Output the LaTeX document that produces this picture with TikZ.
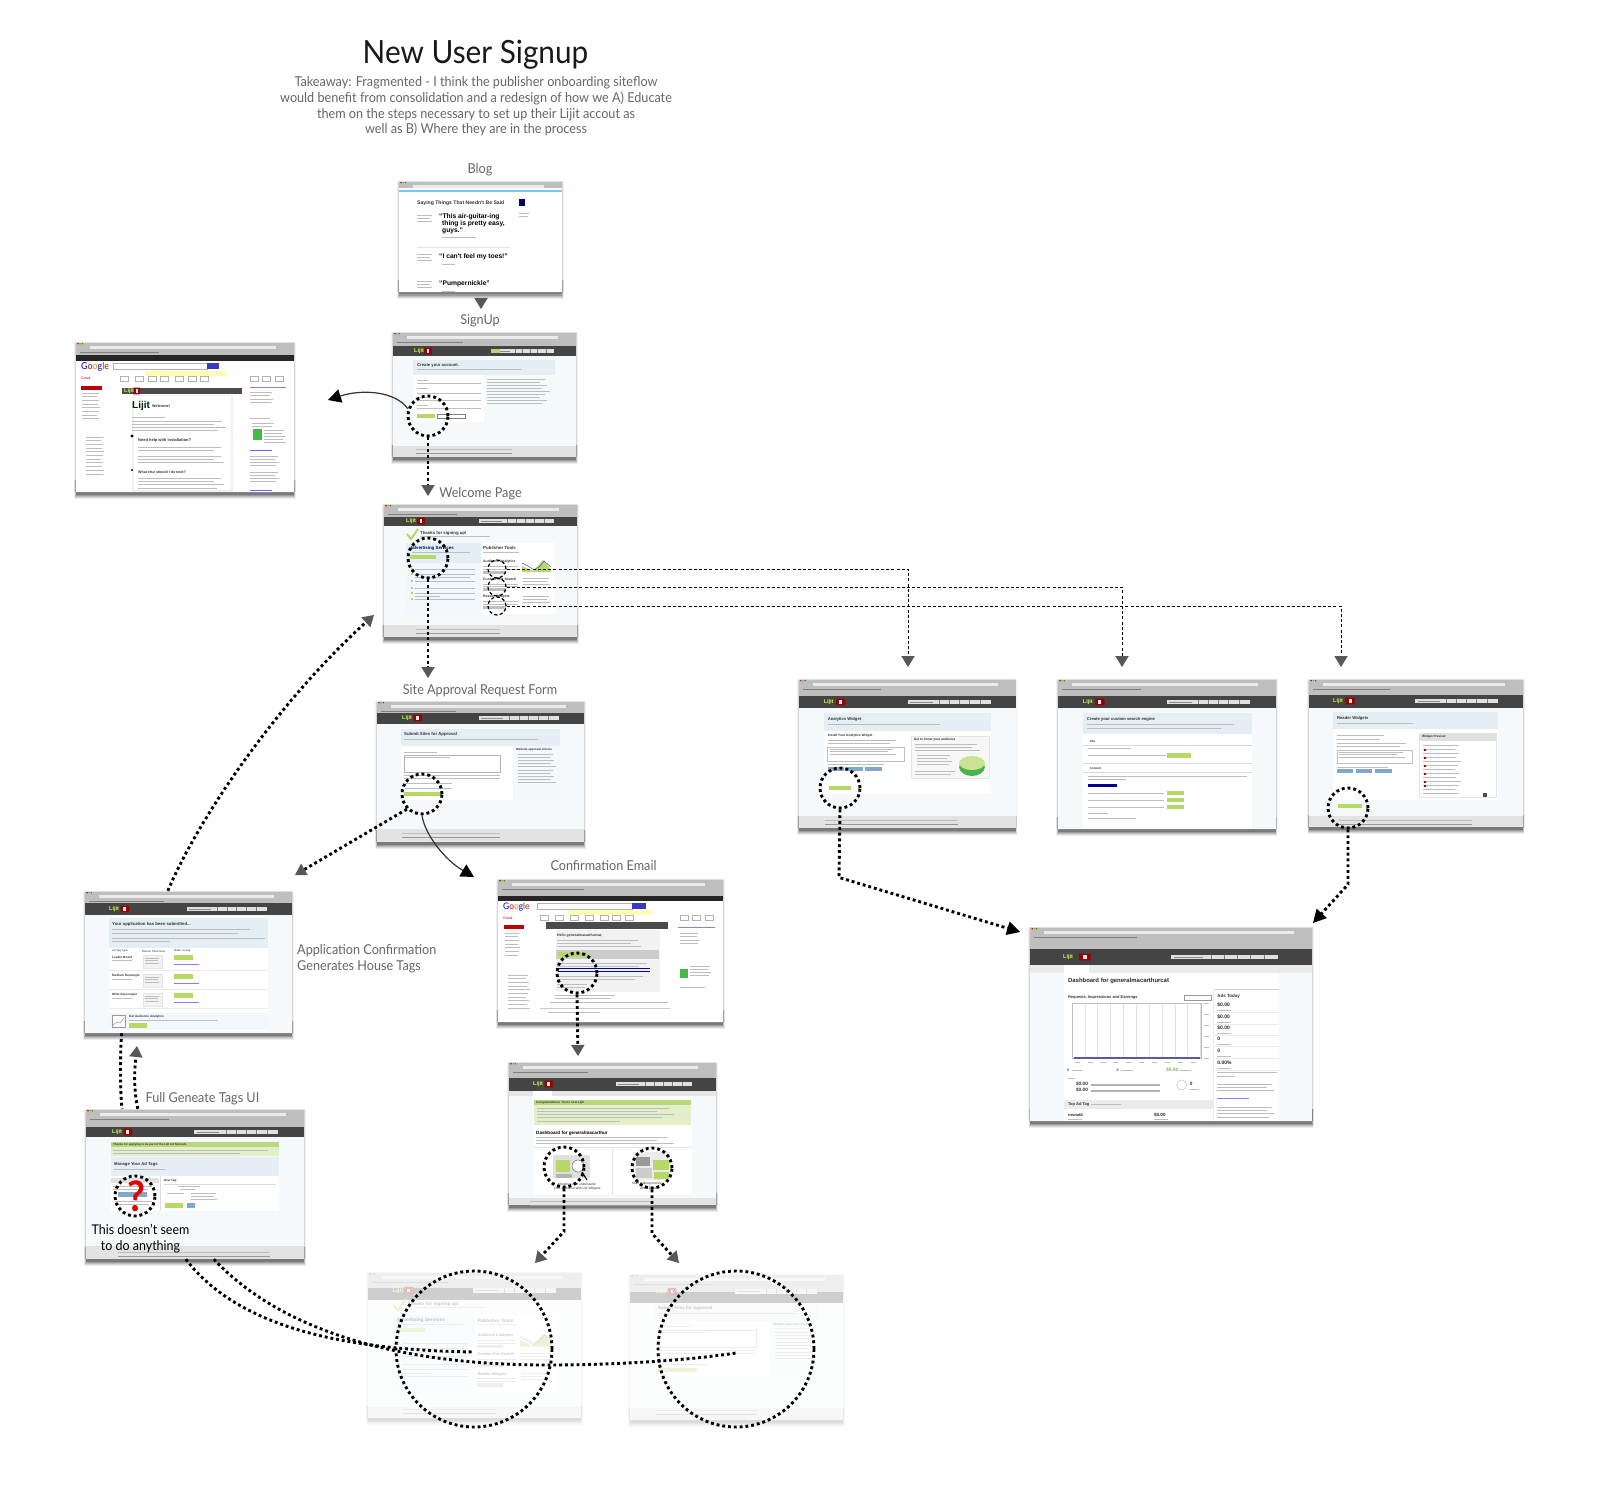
\documentclass[tikz,border=0pt]{standalone}
\usepackage{fontspec}
\setmainfont[FakeStretch=0.93]{Lato}
\newfontfamily\mock{Liberation Sans}
\usetikzlibrary{arrows.meta}
\definecolor{lab}{HTML}{666668}
\definecolor{tri}{HTML}{58585A}
\definecolor{chromec}{HTML}{BEBEBE}
\definecolor{headc}{HTML}{444444}
\definecolor{pagec}{HTML}{F6F9FB}
\definecolor{footc}{HTML}{E2E3E3}
\definecolor{panelb}{HTML}{E4EFF5}
\definecolor{gbtn}{HTML}{B5D866}
\definecolor{pgreen}{HTML}{E3EFC8}
\definecolor{dgreen}{HTML}{B9D77E}
\definecolor{bbtn}{HTML}{7FA8CC}
\definecolor{tlc}{HTML}{BBBDBF}
\definecolor{mtext}{HTML}{333333}
\newcounter{tc}
\tikzset{
 dots/.style={line width=2.9pt,dash pattern=on 2.9pt off 2.9pt,black},
 dashy/.style={line width=1pt,dash pattern=on 2.9pt off 2.3pt,black},
 hot/.style={circle,draw,dots,minimum size=40pt,inner sep=0pt},
 hotsmall/.style={circle,draw,line width=1.2pt,dash pattern=on 3.4pt off 2.2pt,minimum size=18pt,inner sep=0pt},
 graytip/.style={-{Triangle[length=11pt,width=13.5pt,line width=0pt,color=tri,fill=tri]}},
 blacktip/.style={-{Triangle[length=13pt,width=14pt,line width=0pt,color=black,fill=black]}},
 curve/.style={line width=1.2pt,draw=black!80},
 tlinest/.style={line width=.9pt,draw=tlc},
 lab/.style={text=lab,inner sep=0pt,font=\fontsize{13.6}{15.6}\selectfont},
 winbox/.style={inner sep=0pt,fill=pagec},
}
\newcommand{\tlabel}[5]{\stepcounter{tc}\node[anchor=west,inner sep=0pt,text=#4,font=\mock\fontsize{#3}{#3}\selectfont] (t\arabic{tc}) at (#1,#2) {#5};}
\newcommand{\tline}[3]{\draw[tlinest] (#1,#3) -- (#2,#3);}
\newcommand{\tblock}[5]{\foreach \i in {1,...,#5}{\draw[tlinest] (#1,{#3+(\i-1)*#4}) -- ({#2-mod(\i*7,5)*(#2-#1)*.04},{#3+(\i-1)*#4});}}
\newcommand{\btn}[5]{\fill[#5] (#1,{#3-#4/2}) rectangle (#2,{#3+#4/2});}
\newcommand{\lijit}[3]{\stepcounter{tc}%
 \fill[red!60!black,rounded corners=.5pt] ({#1+(#2-#1)*.58},#3-3.4) rectangle (#2,#3+3.4);
 \fill[white!90!red] ({#1+(#2-#1)*.72},#3-1.6) rectangle ({#1+(#2-#1)*.86},#3+1.6);
 \node[anchor=west,inner sep=0pt,text=green!30!yellow!70!white,font=\mock\bfseries\fontsize{5.5}{5.5}\selectfont] (t\arabic{tc}) at (#1,#3) {Lijit};}
\newcommand{\navbar}[3]{\fill[white!88!black] (#1,#3-2.4) rectangle (#2,#3+2.4);
 \foreach \f in {.38,.5,.62,.74,.87}{\draw[black!50,line width=.4pt] ({#1+(#2-#1)*\f},#3-2.4) -- ({#1+(#2-#1)*\f},#3+2.4);}
 \draw[black!45,line width=.8pt] ({#1+(#2-#1)*.03},#3) -- ({#1+(#2-#1)*.3},#3);}
\newcommand{\foots}[3]{\tline{#1}{#2}{#3}\draw[line width=.8pt,draw=black!40] (#1,#3+4) -- (#2,#3+4);}
% window frame: name x0 y0 x1 y1 chromeBottom headBottom footTop
\newcommand{\win}[8]{%
 \fill[black,opacity=.06] ({#2-2},{#3+1}) rectangle ({#4+2},#5);
 \fill[black,opacity=.10] ({#2-1},#3) rectangle ({#4+1},#5);
 \foreach \g/\h/\o in {1.6/7/.07,1.2/6/.09,.8/5/.12,.4/4/.16,0/2.5/.22}{\fill[black,opacity=\o] ({#2-\g},{#5-12}) rectangle ({#4+\g},{#5+\h});}
 \node[winbox,minimum width={(#4-#2)*1pt},minimum height={(#5-#3)*1pt}] (#1) at ({(#2+#4)/2},{(#3+#5)/2}) {};
 \fill[chromec] (#2,#3) rectangle (#4,#6);
 \begin{scope}
 \clip (#2,#3) rectangle (#4,#6);
 \fill[black!12] (#2,#3) rectangle (#4,{#3+1});
 \fill[white!92!black] ({#2+14},{#3+3.6}) rectangle ({#4-18},{#3+6.6});
 \draw[black!50,line width=.7pt] ({#2+4},{#3+10.6}) -- ({#2+(#4-#2)*.38},{#3+10.6});
 \fill[red!70!black] ({#2+2},{#3+1.7}) circle (.8pt);
 \fill[orange] ({#2+4.2},{#3+1.7}) circle (.8pt);
 \fill[green!60!black] ({#2+6.4},{#3+1.7}) circle (.8pt);
 \end{scope}
 \fill[headc] (#2,#6) rectangle (#4,#7);
 \fill[footc] (#2,#8) rectangle (#4,#5);
}
% ---- reusable page contents
\newcommand{\welcomecontent}{%
 \lijit{406}{425}{521}\navbar{479}{554}{521}
 \draw[line width=2pt,draw=gbtn] (407,534) -- (411,539) -- (418,529);
 \tlabel{420}{533}{4.3}{mtext}{\bfseries Thanks for signing up!}
 \tline{420}{490}{536.5}
 \fill[white] (406,543) rectangle (555,614);
 \fill[panelb] (406,543) rectangle (481,563);
 \fill[panelb!50!white] (406,563) rectangle (481,614);
 \tlabel{410}{548}{4.4}{blue!40!black}{\bfseries Advertising Services}
 \tline{412}{470}{552}
 \btn{410}{436}{557}{4}{gbtn}
 \foreach \y in {569,574,581,588,593,599}{\fill[gbtn] (411,\y-1) rectangle (413,\y+1);\tline{415}{475}{\y}}
 \tline{415}{470}{577}\tline{415}{440}{596}
 \tlabel{483}{548}{4.4}{mtext}{\bfseries Publisher Tools}
 \tline{483}{519}{552}
 \tlabel{483}{562}{3.5}{mtext}{\bfseries Audience Analytics}
 \tlabel{483}{579}{3.5}{mtext}{\bfseries Custom Site Search}
 \tlabel{483}{597}{3.5}{mtext}{\bfseries Reader Widgets}
 \tline{483}{518}{566}\tline{483}{518}{569}\tline{483}{518}{584}\tline{483}{518}{586}\tline{483}{518}{601}\tline{483}{518}{604}
 \btn{483}{506}{572}{3}{black!25}\btn{483}{506}{589}{3}{black!25}\btn{483}{506}{607}{3}{black!25}
 \fill[gbtn] (522,572) -- (522,566) -- (528,569) -- (533,571) -- (538,566) -- (543,560) -- (548,566) -- (551,570) -- (551,572) -- cycle;
 \draw[blue!40!gray,line width=.5pt] (522,563) -- (528,566) -- (534,570) -- (540,566) -- (544,561) -- (551,567);
 \tblock{523}{551}{578}{3}{3}\tblock{523}{551}{596}{3}{3}
 \foots{416}{500}{629}
}
\newcommand{\approvalcontent}{%
 \lijit{402}{422}{718}\navbar{479}{559}{718}
 \fill[panelb] (401,729) rectangle (560,746);
 \fill[white] (401,746) rectangle (560,800);
 \fill[panelb!45!white] (513,746) rectangle (560,800);
 \tlabel{404}{734}{4.3}{mtext}{\bfseries Submit Sites for Approval}
 \tline{404}{538}{739}
 \tline{404}{437}{752}
 \draw[black!30,line width=.4pt] (404,755) rectangle (500,772);
 \tline{405}{450}{757}
 \tline{404}{500}{775}\tline{404}{500}{778}
 \tline{405}{452}{783}\tline{405}{452}{788}
 \btn{404}{442}{794}{4}{gbtn}
 \tlabel{516}{750}{3}{mtext}{\bfseries Website approval criteria}
 \tblock{518}{556}{754}{3.2}{10}
 \foots{402}{500}{833}
}
\newcommand{\googlelogo}[3]{\stepcounter{tc}\node[anchor=west,inner sep=0pt,font=\fontsize{#3}{#3}\selectfont] (t\arabic{tc}) at (#1,#2) {\textcolor{blue!70!black}{G}\textcolor{red!80!black}{o}\textcolor{orange}{o}\textcolor{blue!70!black}{g}\textcolor{green!50!black}{l}\textcolor{red!80!black}{e}};}
\begin{document}
\begin{tikzpicture}[x=1pt,y=-1pt]
\useasboundingbox (0,0) rectangle (1600,1495);
\fill[white] (0,0) rectangle (1600,1495);

% ======= Blog
\win{blog}{399}{181}{562}{292}{188}{188}{292}
\fill[white] (399,188) rectangle (562,292);
\fill[blue!40!cyan!55!white] (399,190) rectangle (562,192);
\tlabel{417}{203}{5.1}{mtext}{\bfseries Saying Things That Needn't Be Said}
\fill[blue!40!black] (519,199) rectangle (525,206);
\tblock{519}{530}{213}{3}{2}
\tblock{417}{433}{215}{3}{3}\tblock{417}{433}{254}{3.3}{3}\tblock{417}{433}{281}{3.4}{3}
\tlabel{439}{217}{6.7}{black}{\bfseries “This air-guitar-ing}
\tlabel{442}{224}{6.7}{black}{\bfseries thing is pretty easy,}
\tlabel{442}{230.5}{6.7}{black}{\bfseries guys.”}
\tline{442}{476}{237}
\draw[black!10,line width=.6pt] (417,247) -- (510,247);
\tlabel{439}{257}{6.7}{black}{\bfseries “I can't feel my toes!”}
\tline{442}{455}{264}
\tlabel{439}{284}{6.7}{black}{\bfseries “Pumpernickle”}
\tline{442}{455}{291}

% ======= SignUp
\win{signup}{393}{332}{576}{457}{346}{356}{446}
\lijit{414}{432}{351}\navbar{491}{554}{351}\btn{491}{500}{351}{4.4}{gbtn}
\fill[panelb] (413,360) rectangle (555,375);
\fill[white] (413,375) rectangle (555,422);
\fill[panelb!40!white] (484,375) rectangle (555,422);
\tlabel{417}{365}{4.2}{mtext}{\bfseries Create your account.}
\tline{417}{522}{369}
\foreach \y/\z in {380/383,388/393,397/400,405/408}{\tline{417}{428}{\y}\draw[black!25,line width=.4pt] (417,\z) -- (481,\z);}
\btn{417}{435}{416}{4}{gbtn}\draw[black!50,line width=.4pt] (437,414) rectangle (465,418);
\tblock{487}{550}{379}{3}{9}
\foots{416}{512}{449}

% ======= Gmail
\win{gmail}{76}{342}{294}{492}{355}{361}{492}
\fill[white] (76,361) rectangle (294,492);
\fill[black!85] (76,355) rectangle (294,361);
\googlelogo{81}{367}{9.5}
\draw[black!30,line width=.4pt] (113,363) rectangle (207,369);
\btn{207}{219}{366}{6}{blue!55!gray}
\btn{145}{227}{373.5}{5}{yellow!30!white}
\tlabel{81}{378}{3.5}{red!70!black}{Gmail}
\foreach \x in {120,135,148,160,175,188,200,250,262,275}{\draw[black!30,line width=.4pt] (\x,376) rectangle (\x+8,381);}
\btn{81}{102}{388}{4}{red!75!black}
\tblock{82}{100}{393}{3.7}{8}\tblock{86}{104}{437}{3.7}{11}
\fill[black!70] (122,388) rectangle (242,394);
\lijit{124}{140}{391}
\fill[white!94!black] (132,395) rectangle (233,492);
\fill[white] (134,396) rectangle (231,490);
\tlabel{132}{406}{10}{black!85!green}{\bfseries Lijit}
\tlabel{152}{406}{3.8}{mtext}{\bfseries Welcome!}
\tline{132}{165}{417}\tblock{132}{230}{421}{3}{4}
\tlabel{138}{440}{4}{mtext}{\bfseries Need help with installation?}
\tblock{138}{228}{447}{3}{2}\tblock{138}{228}{456}{3}{3}
\tlabel{138}{472}{3.6}{mtext}{\bfseries What else should I do next?}
\tblock{138}{228}{478}{3.4}{4}
\fill[black] (132,436) circle (1.6pt);\fill[black] (132,470) circle (1.2pt);
\draw[blue!50!white,line width=.8pt] (250,387) -- (286,387);
\tblock{250}{274}{392}{3.5}{4}
\tline{250}{270}{418}\tblock{252}{276}{423}{3}{2}
\btn{253}{262}{434}{11}{green!45!gray}
\tblock{264}{286}{430}{3}{5}
\draw[blue!60!white,line width=.8pt] (250,450) -- (272,450);
\tblock{250}{280}{456}{3.2}{4}\tblock{250}{280}{472}{3.2}{4}\draw[blue!60!white,line width=.8pt] (250,490) -- (272,490);

% ======= Welcome
\win{welcome}{384}{504}{577}{637}{517}{526}{625}
\welcomecontent

% ======= Approval
\win{approval}{377}{701}{584}{842}{713}{724}{829}
\approvalcontent

% ======= Email
\win{email}{498}{879}{723}{1022}{896}{896}{1022}
\fill[white] (498,896) rectangle (723,1022);
\fill[black!85] (498,896) rectangle (723,901);
\googlelogo{503}{907}{9}
\draw[black!30,line width=.4pt] (537,903) rectangle (632,909);
\btn{632}{646}{906}{6}{blue!55!gray}
\btn{568}{652}{912.5}{5}{yellow!30!white}
\tlabel{503}{918}{3.5}{red!70!black}{Gmail}
\foreach \x in {540,555,570,585,600,612,625,680,692,705}{\draw[black!30,line width=.4pt] (\x,915) rectangle (\x+8,920);}
\btn{504}{524}{927}{4}{red!75!black}
\tblock{505}{520}{933}{3.7}{7}\tblock{508}{530}{975}{3.7}{10}
\fill[black!70] (546,922) rectangle (668,929);
\fill[white!95!black] (556,930) rectangle (660,992);
\tlabel{557}{936}{3.5}{mtext}{\bfseries Hello generalmacarthurcat,}
\tblock{557}{645}{940}{3}{3}
\fill[black!20] (556,950) rectangle (659,959);
\btn{558}{587}{954.5}{5}{gbtn}
\tblock{557}{655}{963}{3}{2}
\draw[blue!70!black,line width=.7pt] (558,968) -- (650,968) (558,971) -- (650,971);
\tblock{557}{650}{976}{3.2}{2}
\tblock{557}{590}{984}{3}{2}
\tblock{555}{620}{995}{3}{2}
\tline{550}{668}{1002}
\draw[black!20,line width=.4pt] (540,1008) -- (670,1008);
\tline{548}{600}{1012}
\draw[blue!50!white,line width=.8pt] (678,927) -- (715,927);
\tblock{680}{700}{933}{3.5}{4}
\btn{680}{688}{973}{9}{green!45!gray}
\tblock{690}{712}{966}{3}{4}
\tline{680}{705}{987}

% ======= Small dashboard
\win{dashs}{509}{1062}{716}{1205}{1078}{1091}{1198}
\lijit{533}{553}{1084}\navbar{616}{692}{1084}
\fill[black!10] (509,1091) rectangle (716,1096);
\fill[white] (533,1091) rectangle (552,1096);
\fill[white] (533,1096) rectangle (692,1195);
\fill[dgreen] (534,1100) rectangle (691,1105);
\fill[pgreen] (534,1105) rectangle (691,1125);
\tlabel{536}{1102.5}{3}{mtext}{\bfseries Congratulations! You're now Lijit!}
\tblock{537}{680}{1108}{3}{4}\tline{537}{620}{1121}
\tlabel{536}{1133}{4.6}{black}{\bfseries Dashboard for generalmacarthur}
\tblock{536}{680}{1137}{3}{3}
\draw[black!10,line width=.5pt] (533,1147) -- (692,1147) (612,1147) -- (612,1195);
% illustration 1
\fill[black!12] (553,1155) rectangle (590,1178);
\fill[gbtn] (556,1160) rectangle (570,1172);
\fill[black!30] (556,1174) rectangle (572,1178);
\draw[black!60,fill=white,line width=.5pt] (578,1166) circle (6pt);
\draw[black,line width=1.2pt] (582,1172) -- (587,1180);
\tlabel{558}{1184}{3.3}{mtext}{Monetize and understand}
\tlabel{554}{1188.5}{3.3}{mtext}{your audience with Lijit Widgets}
% illustration 2
\fill[black!8] (633,1152) rectangle (670,1180);
\fill[black!40] (636,1157) rectangle (650,1166);
\fill[gbtn] (653,1160) rectangle (669,1170);
\fill[black!20] (636,1168) rectangle (652,1178);
\fill[gbtn] (654,1172) rectangle (669,1179);
\tlabel{632}{1184}{3.3}{mtext}{Start making money}
\tlabel{640}{1188.5}{3.3}{mtext}{with Lijit Ads}
\foots{530}{650}{1201}

% ======= App confirm
\win{appconf}{85}{891}{292}{1033}{903}{915}{1033}
\lijit{109}{129}{909}\navbar{187}{267}{909}
\fill[white] (109,948) rectangle (268,1031);
\fill[panelb] (109,918) rectangle (268,948);
\tlabel{112}{924}{4.3}{mtext}{\bfseries Your application has been submitted...}
\tblock{112}{262}{929}{4}{2}\tline{112}{265}{938}\tline{112}{170}{941.5}
\tlabel{112}{951}{2.8}{mtext}{Ad Tag Type}\tlabel{142}{951}{2.8}{mtext}{Banner Placement}\tlabel{174}{951}{2.8}{mtext}{Make our tag}
\foreach \d/\n in {0/Leader Board,19/Medium Rectangle,38/Wide Skyscraper}{
 \tlabel{112}{957+\d}{3.1}{mtext}{\bfseries \n}
 \tline{112}{132}{960.5+\d}
 \draw[black!10,fill=white!95!black,line width=.3pt] (143,955+\d) rectangle (162,968+\d);
 \tblock{145}{160}{958+\d}{2.6}{3}
 \btn{174}{193}{957.5+\d}{5}{gbtn}
 \draw[blue!50!white,line width=.7pt] (174,964+\d) -- (199,964+\d);
 \draw[black!8,line width=.4pt] (109,950+\d+20) -- (268,950+\d+20);
}
\fill[panelb!50!white] (109,1013) rectangle (268,1030);
\draw[black!40,fill=white,line width=.5pt] (112,1015) rectangle (125,1027);
\draw[gray,line width=.4pt] (113,1025) -- (117,1022) -- (120,1023) -- (124,1018);
\tlabel{129}{1017}{3.1}{mtext}{\bfseries Get Audience Analytics}
\tline{129}{218}{1020.5}
\btn{129}{147}{1025.5}{5}{gbtn}

% ======= Full tags
\win{fulltags}{86}{1109}{304}{1259}{1127}{1137}{1246}
\lijit{112}{132}{1132}\navbar{194}{278}{1132}
\fill[dgreen] (111,1142) rectangle (279,1147);
\fill[pgreen] (111,1147) rectangle (279,1156);
\tlabel{113}{1144.5}{2.9}{mtext}{\bfseries Thanks for applying to be part of the Lijit Ad Network.}
\tline{113}{268}{1150}\tline{113}{240}{1153.5}
\fill[panelb] (111,1157) rectangle (279,1176);
\tlabel{114}{1164}{4.2}{mtext}{\bfseries Manage Your Ad Tags}
\tline{114}{165}{1169}
\fill[white] (111,1176) rectangle (279,1211);
\fill[black!12] (111,1178) rectangle (159,1183);
\draw[black!12,line width=.4pt] (160,1176) -- (160,1211);
\btn{118}{147}{1194.5}{5}{bbtn}
\tblock{113}{155}{1186}{3}{2}\tblock{115}{155}{1201}{3}{2}
\tlabel{164}{1181}{3}{mtext}{\bfseries New Tag:}
\draw[black!15,line width=.4pt] (164,1184) -- (276,1184);
\tline{178}{200}{1186}\tline{180}{195}{1189.5}\tline{167}{184}{1193}
\tblock{191}{218}{1193}{3.4}{3}
\btn{165}{183}{1205}{5}{gbtn}\btn{187}{195}{1205}{5}{bbtn}
\foots{118}{270}{1252}

\begin{scope}[shift={(790-790*.989,0)},xscale=.989,transform shape]
% ======= Analytics
\win{analytics}{799}{679}{1018}{828}{696}{708}{816}
\lijit{824}{846}{702}\navbar{909}{993}{702}
\fill[white] (824,731) rectangle (993,794);
\fill[panelb] (824,713) rectangle (993,731);
\tlabel{828}{719}{4.2}{mtext}{\bfseries Analytics Widget}
\tline{828}{942}{724}
\tlabel{828}{736}{3.3}{mtext}{\bfseries Install Your Analytics Widget}
\tblock{828}{903}{740}{3}{2}
\draw[black!25,line width=.4pt] (828,747) rectangle (905,761);
\tblock{830}{900}{749}{2.6}{3}
\tline{828}{885}{764}
\btn{828}{845}{769}{4}{bbtn}\btn{847}{864}{769}{4}{bbtn}\btn{866}{883}{769}{4}{bbtn}
\draw[black!10,fill=white!97!black,line width=.4pt] (913,736) rectangle (991,778);
\tlabel{915}{740}{3.3}{mtext}{\bfseries Get to know your audience}
\tblock{916}{985}{744}{3}{3}\tblock{918}{955}{755}{3.2}{4}\tblock{916}{960}{771}{3}{2}
\fill[green!40!gray] (974,767) ellipse (13pt and 9pt);
\fill[gbtn!70!white] (974,763) ellipse (13pt and 7pt);
\btn{829}{852}{788}{4.5}{gbtn}
\foots{825}{960}{820}

% ======= Search
\win{search}{1061}{679}{1281}{829}{696}{708}{829}
\lijit{1086}{1108}{702}\navbar{1171}{1255}{702}
\fill[white] (1086,734) rectangle (1257,829);
\fill[panelb] (1086,713) rectangle (1257,734);
\tlabel{1090}{719}{4.2}{mtext}{\bfseries Create your custom search engine}
\tblock{1090}{1252}{724}{4}{2}
\tlabel{1093}{741}{3}{mtext}{\bfseries Site}
\draw[black!15,line width=.4pt] (1086,745) -- (1257,745) (1086,763) -- (1257,763) (1086,772) -- (1257,772);
\tline{1091}{1135}{748.5}
\tline{1091}{1170}{755}\btn{1171}{1195}{755.5}{5}{gbtn}
\tlabel{1093}{768}{3}{mtext}{\bfseries Content}
\tline{1091}{1252}{776}\tline{1091}{1130}{779}
\btn{1091}{1121}{785.5}{3.5}{blue!60!black}
\foreach \y in {793,800,807}{\tline{1091}{1168}{\y}\btn{1171}{1188}{\y}{4.5}{gbtn}}
\tline{1091}{1112}{813}\tline{1091}{1140}{818}

% ======= Reader
\win{reader}{1315}{679}{1531}{827}{695}{708}{816}
\lijit{1339}{1361}{701}\navbar{1422}{1506}{701}
\fill[white] (1339,729) rectangle (1506,800);
\fill[panelb] (1339,712) rectangle (1506,729);
\tlabel{1343}{718}{4.2}{mtext}{\bfseries Reader Widgets}
\tline{1343}{1420}{723}
\tblock{1343}{1395}{735}{4}{2}\tblock{1343}{1419}{743}{3}{2}
\draw[black!25,line width=.4pt] (1343,750) rectangle (1419,763);
\tblock{1345}{1415}{752}{2.6}{3}
\tline{1343}{1395}{767}
\btn{1343}{1359}{771}{4}{bbtn}\btn{1362}{1378}{771}{4}{bbtn}\btn{1381}{1399}{771}{4}{bbtn}
\draw[black!10,line width=.4pt] (1426,733) rectangle (1504,797);
\fill[black!12] (1426,733) rectangle (1504,741);
\tlabel{1429}{737}{3.2}{mtext}{\bfseries Widget Preview}
\tblock{1430}{1468}{745}{4}{13}
\foreach \y in {749,757,765,773,781,785}{\fill[red!70!black] (1431,\y) rectangle (1433,\y+2);}
\fill[black!70] (1491,793) rectangle (1495,797);
\btn{1344}{1368}{806}{4.5}{gbtn}
\foots{1345}{1480}{820}

% ======= Big dashboard
\win{bigdash}{1033}{927}{1318}{1121}{949}{965}{1121}
\lijit{1066}{1094}{957}\navbar{1175}{1283}{957}
\fill[black!8] (1033,965) rectangle (1318,973);
\fill[white] (1067,965) rectangle (1092,973);
\fill[white] (1067,973) rectangle (1284,1121);
\tlabel{1071}{981}{6}{black!85}{\bfseries Dashboard for generalmacarthurcat}
\draw[black!20,line width=1pt] (1220,989) -- (1284,989);
\draw[black!8,line width=.5pt] (1218,989) -- (1218,1121);
\tlabel{1071}{997}{4}{mtext}{\bfseries Requests, Impressions and Earnings}
\draw[black!40,line width=.4pt] (1189,995) rectangle (1216,1000);
\foreach \x in {1075,1088,...,1206}{\draw[black!12,line width=.4pt] (\x,1003) -- (\x,1058);}
\draw[black!25,line width=.4pt] (1075,1003) rectangle (1206,1058);
\draw[blue!30!gray,line width=1.6pt] (1077,1058) -- (1205,1058);
\foreach \x in {1078,1091,...,1204}{\tline{\x}{\x+5}{1062}}
\foreach \y in {1003,1014,1025,1036,1047,1058}{\tline{1209}{1214}{\y}}
\tlabel{1070}{1070}{3.6}{blue!50!gray}{\bfseries 0}\tline{1075}{1085}{1070.5}
\tlabel{1120}{1070}{3.6}{blue!50!gray}{\bfseries 0}\tline{1125}{1137}{1070.5}
\tlabel{1170}{1070}{5}{gbtn!80!black}{\bfseries \$0.00}\tline{1184}{1195}{1070.5}
\tline{1071}{1078}{1078}
\tlabel{1079}{1084}{4.8}{black!80}{\bfseries \$0.00}\tlabel{1079}{1090}{4.8}{black!80}{\bfseries \$0.00}
\draw[black!30,line width=1.1pt] (1094,1085) -- (1164,1085) (1094,1091) -- (1164,1091);
\draw[black!20,line width=.7pt] (1186,1085) circle (5pt);
\tlabel{1194}{1084}{4.8}{black!80}{\bfseries 0}\tline{1194}{1204}{1089}
\fill[black!8] (1067,1100) rectangle (1218,1109);
\tlabel{1071}{1104}{4}{mtext}{\bfseries Top Ad Tag}\tline{1094}{1125}{1104}
\tlabel{1071}{1115}{4}{black!85}{\bfseries newadd}\tline{1071}{1085}{1119}
\tlabel{1158}{1115}{4.6}{black!85}{\bfseries \$0.00}\tline{1158}{1172}{1119}
\tlabel{1222}{996}{4.5}{mtext}{\bfseries Ads Today}
\foreach \y/\n in {1005/\$0.00,1017/\$0.00,1028/\$0.00,1039/0,1051/0,1063/0.00\%}{
 \tlabel{1222}{\y}{5}{black!85}{\bfseries \n}
 \tline{1222}{1236}{\y+5}
 \draw[black!8,line width=.4pt] (1220,\y+7) -- (1284,\y+7);}
\tline{1222}{1282}{1072}\tline{1222}{1240}{1076}
\tblock{1222}{1282}{1084}{3.4}{3}\draw[blue!50!white,line width=.8pt] (1222,1098) -- (1254,1098);
\tblock{1222}{1282}{1107}{3.4}{4}
\end{scope}

% ======= Faded copies
\win{faded1}{368}{1272}{581}{1418}{1288}{1300}{1407}
\begin{scope}[shift={(368-384*1.104,1272-504*1.098)},xscale=1.104,yscale=1.098,transform shape]
\welcomecontent
\end{scope}
\win{faded2}{630}{1274}{843}{1420}{1292}{1303}{1408}
\begin{scope}[shift={(630-377*1.029,1274-701*1.035)},xscale=1.029,yscale=1.035,transform shape]
\approvalcontent
\end{scope}
\fill[white,opacity=.74] (362,1268) rectangle (588,1430);
\fill[white,opacity=.74] (624,1268) rectangle (850,1432);

% ======= Red question mark
\node[inner sep=0pt,text=red!88!black,font=\bfseries\fontsize{42}{42}\selectfont] (qm) at (136,1196) {?};

% ======= Hot spot circles
\node[hot] (cSignup) at (428,416) {};
\node[hot] (cWelcome) at (428,558) {};
\node[hotsmall] (cA) at (497,569) {};
\node[hotsmall] (cB) at (497,587) {};
\node[hotsmall] (cC) at (497,606) {};
\node[hot] (cApproval) at (422,794) {};
\node[hot] (cAnalytics) at (840,788) {};
\node[hot] (cReader) at (1348,808) {};
\node[hot] (cEmail) at (577,973) {};
\node[hot] (cD1) at (564,1167) {};
\node[hot] (cD2) at (652,1168) {};
\node[hot] (cFull) at (135,1196) {};
\node[hot,minimum size=156pt] (cF1) at (474,1349) {};
\node[hot,minimum size=156pt] (cF2) at (736,1349) {};

% ======= Labels
\node[inner sep=0pt,text=black!90,font=\fontsize{32}{32}\selectfont] (title) at (475.5,55) {New User Signup};
\node[lab,align=center] (takeaway) at (476,106.5) {Takeaway: Fragmented - I think the publisher onboarding siteflow\\would benefit from consolidation and a redesign of how we A) Educate\\them on the steps necessary to set up their Lijit accout as\\well as B) Where they are in the process};
\node[lab] (lblBlog) at (480,170) {Blog};
\node[lab] (lblSignup) at (480,321) {SignUp};
\node[lab] (lblWelcome) at (480.5,494) {Welcome Page};
\node[lab] (lblApproval) at (480,691) {Site Approval Request Form};
\node[lab] (lblEmail) at (603.5,866) {Confirmation Email};
\node[lab,align=left,anchor=west] (lblApp) at (297,959) {Application Confirmation\\Generates House Tags};
\node[lab] (lblFull) at (202.5,1099) {Full Geneate Tags UI};
\node[inner sep=0pt,align=center,text=black,font=\fontsize{13.4}{15.6}\selectfont] (lblNote) at (140.5,1238.5) {This doesn't seem\\to do anything};

% ======= Coordinates for free ends
\coordinate (signupTip) at (481,309);
\coordinate (tA) at (908,667);
\coordinate (tB) at (1122,667);
\coordinate (tC) at (1341,667);
\coordinate (welcomeIn) at (374,615);
\coordinate (appOut) at (295,875);
\coordinate (emailIn) at (474,877);
\coordinate (gmailIn) at (328,400);
\coordinate (dashInL) at (1020,932);
\coordinate (dashInR) at (1313,923);
\coordinate (fade1In) at (535,1263);
\coordinate (fade2In) at (679,1263);
\coordinate (welcomeTip) at (428,496);
\coordinate (approvalTip) at (428,678);
\coordinate (dashSmallTip) at (578,1056);

% ======= Connectors
\draw[graytip,line width=.4pt,draw=tri,shorten <=6pt] (blog.south -| signupTip) -- (signupTip);
\draw[curve,blacktip] (cSignup.160) .. controls (395,391) and (362,389) .. (gmailIn);
\draw[dots,graytip] (cSignup.south) -- (welcomeTip);
\draw[dots,graytip] (cWelcome.south) -- (approvalTip);
\draw[dashy,graytip] (cA.east) -- (tA |- cA.east) -- (tA);
\draw[dashy,graytip] (cB.east) -- (tB |- cB.east) -- (tB);
\draw[dashy,graytip] (cC.east) -- (tC |- cC.east) -- (tC);
\draw[dots,graytip] (cApproval.225) -- (appOut);
\draw[curve,blacktip] (cApproval.south) .. controls (425,835) and (445,860) .. (emailIn);
\draw[dots,graytip] (appconf.north west) ++(83,0) .. controls (200,815) and (280,700) .. (welcomeIn);
\draw[dots,graytip] (cEmail.south) -- (dashSmallTip);
\draw[dots] (appconf.south west) ++(37,0) .. controls (120,1050) and (120,1090) .. (122,1109);
\draw[dots,graytip] (fulltags.north west) ++(52,0) .. controls (134,1090) and (134,1075) .. (137,1046);
\draw[dots,blacktip] (cAnalytics.south) -- ++(-1,68) -- (dashInL);
\draw[dots,blacktip] (cReader.south) -- ++(0,55) -- (dashInR);
\draw[dots,graytip] (cD1.south) -- ++(0,43) -- (fade1In);
\draw[dots,graytip] (cD2.south) -- ++(0,44) -- (fade2In);
\draw[dots] (fulltags.south west) ++(100,0) .. controls (240,1330) and (350,1350) .. ([yshift=-3pt]cF1.center);
\draw[dots] (fulltags.south west) ++(128,0) .. controls (290,1340) and (420,1365) .. (547,1365) .. controls (620,1365) and (690,1360) .. ([yshift=-4pt]cF2.center);
\end{tikzpicture}
\end{document}
